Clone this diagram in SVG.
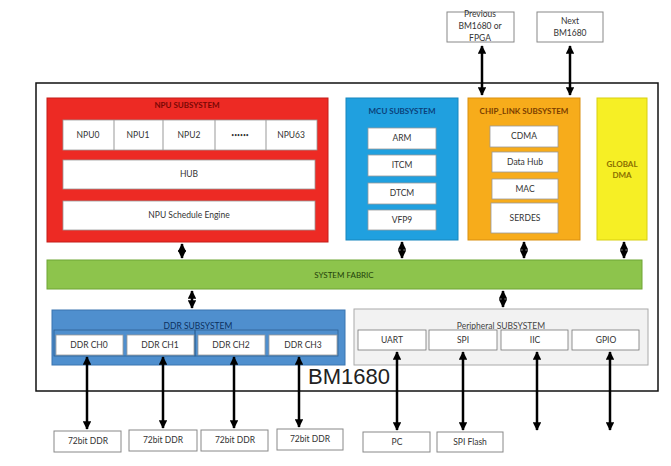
<svg xmlns="http://www.w3.org/2000/svg" width="671" height="466" viewBox="0 0 671 466">
<defs>
<marker id="ah" viewBox="0 0 10 10" refX="9" refY="5" markerWidth="3.4" markerHeight="3.4" orient="auto-start-reverse" markerUnits="strokeWidth">
<path d="M0,0 L10,5 L0,10 z" fill="#000"/>
</marker>
<style>
text{font-family:Lato,"Open Sans","Liberation Sans",sans-serif;font-size:8.5px;fill:#333;text-anchor:middle}
.w{fill:#fff;stroke:#999;stroke-width:0.8}
.ext{fill:#fff;stroke:#888;stroke-width:1}
.t{font-weight:bold;font-size:8px}
.c{stroke:#000;stroke-width:2.5;fill:none;marker-start:url(#ah);marker-end:url(#ah)}
</style>
</defs>
<rect width="671" height="466" fill="#fff"/>
<g id="chip">
<rect x="36" y="83" width="622" height="308" fill="#fff" stroke="#111" stroke-width="1.5"/>
<text x="349" y="384" style="font-family:'Liberation Sans',sans-serif;font-size:22px;fill:#222">BM1680</text>
</g>
<g id="npu">
<rect x="47" y="98" width="281" height="144" fill="#ED2A24" stroke="#c41d18"/>
<text class="t" x="187" y="108" style="fill:#7a0804">NPU SUBSYSTEM</text>
<rect class="w" x="63" y="120" width="254" height="30"/>
<line x1="114" y1="120" x2="114" y2="150" stroke="#999"/>
<line x1="163" y1="120" x2="163" y2="150" stroke="#999"/>
<line x1="215" y1="120" x2="215" y2="150" stroke="#999"/>
<line x1="266" y1="120" x2="266" y2="150" stroke="#999"/>
<text x="88" y="138">NPU0</text>
<text x="138" y="138">NPU1</text>
<text x="189" y="138">NPU2</text>
<text x="240" y="137" style="font-size:5px">••••••</text>
<text x="291" y="138">NPU63</text>
<rect class="w" x="63" y="160" width="252" height="29"/>
<text x="189" y="177">HUB</text>
<rect class="w" x="63" y="201" width="252" height="29"/>
<text x="189" y="218">NPU  Schedule  Engine</text>
</g>
<g id="mcu">
<rect x="346" y="98" width="112" height="142" fill="#20A0DF" stroke="#1686bd"/>
<text class="t" x="402" y="114" style="fill:#0b3f7a">MCU SUBSYSTEM</text>
<rect class="w" x="368" y="128" width="68" height="21"/><text x="402" y="141">ARM</text>
<rect class="w" x="368" y="155" width="68" height="21"/><text x="402" y="168">ITCM</text>
<rect class="w" x="368" y="183" width="68" height="21"/><text x="402" y="196">DTCM</text>
<rect class="w" x="368" y="210" width="68" height="20"/><text x="402" y="223">VFP9</text>
</g>
<g id="chiplink">
<rect x="468" y="98" width="112" height="142" fill="#F7AC1B" stroke="#d98f10"/>
<text class="t" x="524" y="114" style="fill:#7a3d00">CHIP_LINK SUBSYSTEM</text>
<rect class="w" x="490" y="126" width="68" height="21"/><text x="524" y="139">CDMA</text>
<rect class="w" x="492" y="152" width="66" height="20"/><text x="525" y="165">Data Hub</text>
<rect class="w" x="492" y="179" width="66" height="20"/><text x="525" y="192">MAC</text>
<rect class="w" x="491" y="203" width="67" height="30"/><text x="525" y="221">SERDES</text>
</g>
<g id="gdma">
<rect x="597" y="98" width="50" height="142" fill="#F6EF25" stroke="#d8cf10"/>
<text class="t" x="622" y="167" style="fill:#8a6d00">GLOBAL</text>
<text class="t" x="622" y="178" style="fill:#8a6d00">DMA</text>
</g>
<g id="prev">
<rect class="ext" x="447" y="12" width="67" height="30"/>
<text x="480" y="17">Previous</text>
<text x="480" y="29">BM1680 or</text>
<text x="480" y="41">FPGA</text>
</g>
<g id="next">
<rect class="ext" x="537" y="12" width="66" height="30"/>
<text x="570" y="24">Next</text>
<text x="570" y="36">BM1680</text>
</g>
<g id="fabric">
<rect x="47" y="260" width="595" height="29" fill="#8DC44C" stroke="#6fa534"/>
<text class="t" x="344" y="278" style="fill:#24420a;font-weight:normal">SYSTEM FABRIC</text>
</g>
<g id="ddr">
<rect x="52" y="310" width="293" height="55" fill="#4F8FCE" stroke="#3a75b0"/>
<text x="198" y="329" style="fill:#0b3060">DDR SUBSYSTEM</text>
<rect x="54" y="330" width="141" height="26" fill="none" stroke="#2e5f92" stroke-width="0.8"/>
<rect x="195" y="330" width="143" height="26" fill="none" stroke="#2e5f92" stroke-width="0.8"/>
<rect class="w" x="56" y="335" width="67" height="20"/><text x="89" y="348">DDR CH0</text>
<rect class="w" x="127" y="335" width="67" height="20"/><text x="160" y="348">DDR CH1</text>
<rect class="w" x="198" y="335" width="67" height="20"/><text x="231" y="348">DDR CH2</text>
<rect class="w" x="269" y="335" width="68" height="20"/><text x="303" y="348">DDR CH3</text>
</g>
<g id="periph">
<rect x="354" y="309" width="294" height="56" fill="#F2F2F2" stroke="#aaa"/>
<text x="501" y="329" style="fill:#444">Peripheral SUBSYSTEM</text>
<rect class="w" x="358" y="330" width="68" height="20" style="stroke:#777"/><text x="392" y="343">UART</text>
<rect class="w" x="429" y="330" width="68" height="20" style="stroke:#777"/><text x="463" y="343">SPI</text>
<rect class="w" x="501" y="330" width="67" height="20" style="stroke:#777"/><text x="535" y="343">IIC</text>
<rect class="w" x="572" y="330" width="67" height="20" style="stroke:#777"/><text x="606" y="343">GPIO</text>
</g>
<g id="ddr0"><rect class="ext" x="54" y="431" width="67" height="21"/><text x="88" y="444">72bit DDR</text></g>
<g id="ddr1"><rect class="ext" x="129" y="430" width="68" height="21"/><text x="163" y="443">72bit DDR</text></g>
<g id="ddr2"><rect class="ext" x="201" y="430" width="67" height="21"/><text x="235" y="443">72bit DDR</text></g>
<g id="ddr3"><rect class="ext" x="277" y="429" width="66" height="21"/><text x="310" y="442">72bit DDR</text></g>
<g id="pc"><rect class="ext" x="363" y="432" width="67" height="20"/><text x="397" y="445">PC</text></g>
<g id="flash"><rect class="ext" x="437" y="432" width="66" height="20"/><text x="470" y="445">SPI Flash</text></g>
<g id="connectors">
<line class="c" x1="482" y1="46" x2="482" y2="95"/>
<line class="c" x1="570" y1="46" x2="570" y2="95"/>
<line class="c" x1="182" y1="244" x2="182" y2="258"/>
<line class="c" x1="402" y1="242" x2="402" y2="258"/>
<line class="c" x1="524" y1="242" x2="524" y2="258"/>
<line class="c" x1="624" y1="242" x2="624" y2="258"/>
<line class="c" x1="192" y1="291" x2="192" y2="308"/>
<line class="c" x1="503" y1="291" x2="503" y2="307"/>
<line class="c" x1="87" y1="357" x2="87" y2="429"/>
<line class="c" x1="163" y1="357" x2="163" y2="428"/>
<line class="c" x1="234" y1="357" x2="234" y2="428"/>
<line class="c" x1="299" y1="357" x2="299" y2="427"/>
<line class="c" x1="397" y1="352" x2="397" y2="430"/>
<line class="c" x1="463" y1="352" x2="463" y2="430"/>
<line class="c" x1="537" y1="352" x2="537" y2="430"/>
<line class="c" x1="610" y1="352" x2="610" y2="430"/>
</g>
</svg>
